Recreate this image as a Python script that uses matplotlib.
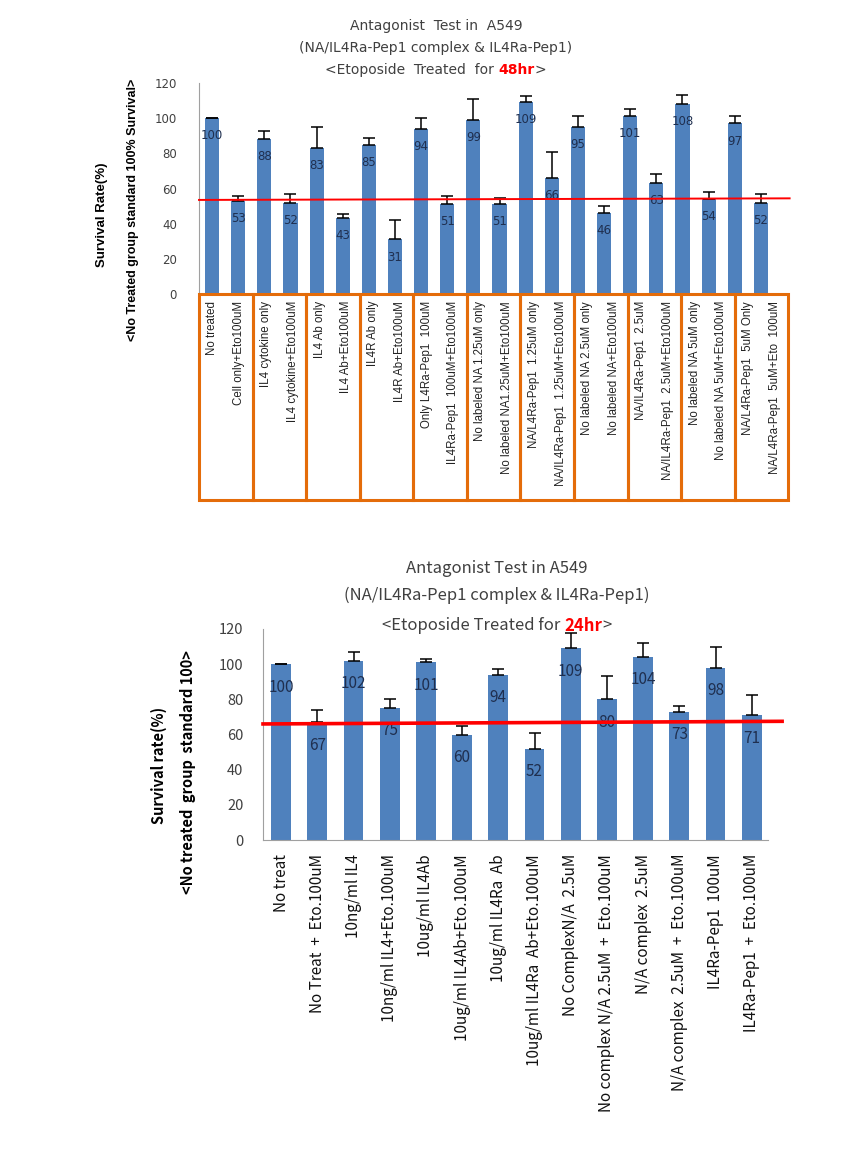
import numpy as np
import matplotlib
matplotlib.use("Agg")
import matplotlib.pyplot as plt
from matplotlib.patches import Rectangle

# ---- data: 48hr panel ----
cats_48 = [
    "No treated", "Cell only+Eto100uM",
    "IL4 cytokine only", "IL4 cytokine+Eto100uM",
    "IL4 Ab only", "IL4 Ab+Eto100uM",
    "IL4R Ab only", "IL4R Ab+Eto100uM",
    "Only L4Ra-Pep1  100uM", "IL4Ra-Pep1  100uM+Eto100uM",
    "No labeled NA 1.25uM only", "No labeled NA1.25uM+Eto100uM",
    "NA/L4Ra-Pep1  1.25uM only", "NA/IL4Ra-Pep1  1.25uM+Eto100uM",
    "No labeled NA 2.5uM only", "No labeled NA+Eto100uM",
    "NA/IL4Ra-Pep1  2.5uM", "NA/IL4Ra-Pep1  2.5uM+Eto100uM",
    "No labeled NA 5uM only", "No labeled NA 5uM+Eto100uM",
    "NA/L4Ra-Pep1  5uM Only", "NA/L4Ra-Pep1  5uM+Eto  100uM",
]
vals_48 = [100, 53, 88, 52, 83, 43, 85, 31, 94, 51, 99, 51,
           109, 66, 95, 46, 101, 63, 108, 54, 97, 52]
err_48 = [0, 3, 4.5, 5, 12, 2.5, 4, 11, 6, 5, 12, 3.5,
          3.5, 15, 6, 4, 4, 5, 5, 4, 4, 5]
ref_48 = [53.5, 54.4]   # red reference line, left and right end

# ---- data: 24hr panel ----
cats_24 = [
    "No treat", "No Treat  +  Eto.100uM",
    "10ng/ml IL4", "10ng/ml IL4+Eto.100uM",
    "10ug/ml IL4Ab", "10ug/ml IL4Ab+Eto.100uM",
    "10ug/ml IL4Ra  Ab", "10ug/ml IL4Ra  Ab+Eto.100uM",
    "No ComplexN/A  2.5uM", "No complex N/A 2.5uM  +  Eto.100uM",
    "N/A complex  2.5uM", "N/A complex  2.5uM  +  Eto.100uM",
    "IL4Ra-Pep1  100uM", "IL4Ra-Pep1  +  Eto.100uM",
]
vals_24 = [100, 67, 102, 75, 101, 60, 94, 52, 109, 80, 104, 73, 98, 71]
err_24 = [0, 7, 5, 5, 2, 5, 3, 9, 9, 13, 8, 3, 12, 11.5]
ref_24 = [66, 67.5]

yticks = [0, 20, 40, 60, 80, 100, 120]

BLUE = "#4F81BD"
ORANGE = "#E46C0A"
TXT = "#404040"
LBL = "#1F2F4F"

W, H = 865, 1157
fig = plt.figure(figsize=(W / 100, H / 100), dpi=100)


def px_axes(l, r, b, t):
    return fig.add_axes([l / W, 1 - b / H, (r - l) / W, (b - t) / H])


def title_line(xc, yc, parts, size, family):
    # draw a line made of differently coloured pieces, centered at xc
    r = fig.canvas.get_renderer()
    texts = []
    for s, c, w in parts:
        texts.append(fig.text(0, 1 - yc / H, s, color=c, weight=w, ha="left",
                              va="center", fontsize=size, family=family))
    widths = [t.get_window_extent(r).width for t in texts]
    x = xc - sum(widths) / 2
    for t, w in zip(texts, widths):
        t.set_x(x / W)
        x += w


# ================= top panel (48hr) =================
ax1 = px_axes(199, 787, 294, 83)
x1 = np.arange(len(vals_48))
ax1.bar(x1, vals_48, width=0.54, color=BLUE, zorder=2)
ax1.errorbar(x1, vals_48, yerr=[np.zeros(len(err_48)), err_48], fmt="none",
             ecolor="black", elinewidth=1.1, capsize=4, capthick=1.1, zorder=3)
for xi, v in zip(x1, vals_48):
    ax1.text(xi, v - 10, str(v), ha="center", va="center", fontsize=8.5,
             color=LBL, zorder=4)
ax1.plot([-0.5, 22.1], ref_48, color="#FF0000", lw=1.4, zorder=5, clip_on=False)
ax1.set_xlim(-0.5, 22.0)
ax1.set_ylim(0, 120)
ax1.set_yticks(yticks)
ax1.tick_params(axis="y", length=0, pad=16, labelsize=8.5, labelcolor=TXT)
for s in ["top", "right", "bottom"]:
    ax1.spines[s].set_visible(False)
ax1.spines["left"].set_color("#A0A0A0")

# orange group boxes under the bars (one per pair of categories),
# category labels sit inside their box
box_w = 2.05
box_h = (500 - 294) / (294 - 83) * 120
lab_x = [-0.5 + box_w * (i // 2) + (i % 2 + 0.5) * box_w / 2 for i in range(len(cats_48))]
ax1.set_xticks(lab_x)
ax1.set_xticklabels(cats_48, rotation=90, fontsize=8.3,
                    family=["Liberation Sans", "DejaVu Sans"], color="#222222")
ax1.tick_params(axis="x", length=0, pad=5)
for k in range(len(cats_48) // 2):
    ax1.add_patch(Rectangle((-0.5 + k * box_w, -box_h), box_w, box_h, fill=False,
                            edgecolor=ORANGE, lw=2.2, clip_on=False, zorder=6))

title_line(436, 26, [("Antagonist  Test in  A549", TXT, "normal")], 10, "DejaVu Sans")
title_line(436, 48, [("(NA/IL4Ra-Pep1 complex & IL4Ra-Pep1)", TXT, "normal")],
           10, "DejaVu Sans")
title_line(436, 70, [("<Etoposide  Treated  for ", TXT, "normal"),
                     ("48hr", "#FF0000", "bold"), (">", TXT, "normal")],
           10, "DejaVu Sans")

fig.text(102 / W, 1 - 215 / H, "Survival Rate(%)", rotation=90, ha="center",
         va="center", fontsize=9.5, weight="bold",
         family=["Liberation Sans Narrow", "Liberation Sans"])
fig.text(133 / W, 1 - 210 / H, "<No Treated group standard 100% Survival>",
         rotation=90, ha="center", va="center", fontsize=9, weight="bold",
         family=["Liberation Sans Narrow", "Liberation Sans"])

# ================= bottom panel (24hr) =================
KR = ["Noto Sans CJK KR", "DejaVu Sans"]
ax2 = px_axes(263, 768, 840, 629)
x2 = np.arange(len(vals_24))
ax2.bar(x2, vals_24, width=0.55, color=BLUE, zorder=2)
ax2.errorbar(x2, vals_24, yerr=[np.zeros(len(err_24)), err_24], fmt="none",
             ecolor="black", elinewidth=1.1, capsize=4.5, capthick=1.1, zorder=3)
for xi, v in zip(x2, vals_24):
    ax2.text(xi, v - 13, str(v), ha="center", va="center", fontsize=11,
             color=LBL, family=KR, zorder=4)
ax2.plot([-0.5, 13.84], ref_24, color="#FF0000", lw=2.6, zorder=5, clip_on=False)
ax2.set_xlim(-0.5, 13.45)
ax2.set_ylim(0, 120)
ax2.set_yticks(yticks)
ax2.set_yticklabels([str(t) for t in yticks], family=KR)
ax2.tick_params(axis="y", length=0, pad=14, labelsize=10.5, labelcolor=TXT)
ax2.set_xticks(x2)
ax2.set_xticklabels(cats_24, rotation=90, fontsize=11, family=KR, color="#111111")
ax2.tick_params(axis="x", length=0, pad=10)
for s in ["top", "right"]:
    ax2.spines[s].set_visible(False)
ax2.spines["left"].set_color("#A0A0A0")
ax2.spines["bottom"].set_color("#A0A0A0")

title_line(497, 568, [("Antagonist Test in A549", TXT, "normal")], 12, KR)
title_line(497, 595, [("(NA/IL4Ra-Pep1 complex & IL4Ra-Pep1)", TXT, "normal")], 12, KR)
title_line(497, 626, [("<Etoposide Treated for ", TXT, "normal"),
                      ("24hr", "#FF0000", "bold"), (">", TXT, "normal")], 12, KR)

fig.text(159 / W, 1 - 765 / H, "Survival rate(%)", rotation=90, ha="center",
         va="center", fontsize=10.5, weight="bold", family=KR)
fig.text(188 / W, 1 - 772 / H, "<No treated  group  standard 100>", rotation=90,
         ha="center", va="center", fontsize=10.5, weight="bold", family=KR)

fig.savefig("out.png", dpi=100)
